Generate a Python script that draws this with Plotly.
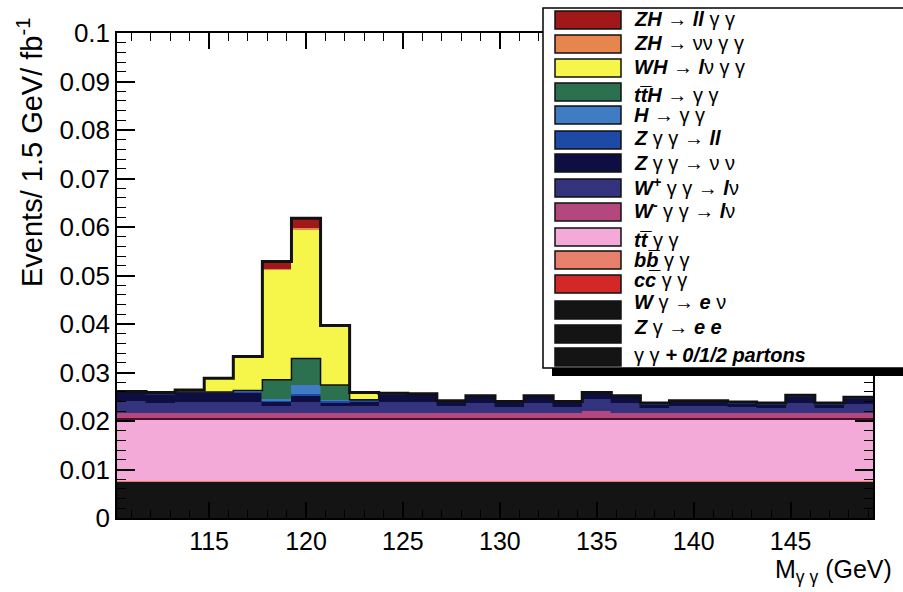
import numpy as np
import plotly.graph_objects as go

# ---------------- data ----------------
mass = [111.0, 112.5, 114.0, 115.5, 117.0, 118.5, 120.0, 121.5, 123.0, 124.5,
        126.0, 127.5, 129.0, 130.5, 132.0, 133.5, 135.0, 136.5, 138.0, 139.5,
        141.0, 142.5, 144.0, 145.5, 147.0, 148.5]
bin_width = 1.5

gg_partons = [0.0072] * 26
zg_ee = [0.0001] * 26
wg_enu = [0.0001] * 26
cc_gg = [0.0001] * 26
bb_gg = [0.0001] * 26
tt_gg = [0.0128] * 26
wminus_gg = [0.0012, 0.0012, 0.0012, 0.0012, 0.0012, 0.0012, 0.0012, 0.0012, 0.0012, 0.0012,
             0.0012, 0.0012, 0.0012, 0.0012, 0.0012, 0.0012, 0.0017, 0.0012, 0.0012, 0.0012,
             0.0012, 0.0012, 0.0012, 0.0012, 0.0012, 0.0012]
wplus_gg = [0.0025, 0.0022, 0.0024, 0.0024, 0.0024, 0.0014, 0.0024, 0.0014, 0.0014, 0.0024,
            0.0024, 0.0014, 0.0022, 0.0013, 0.0022, 0.0013, 0.0024, 0.0022, 0.0011, 0.0014,
            0.0014, 0.0012, 0.0011, 0.0022, 0.0011, 0.0019]
zgg_nunu = [0.0017, 0.0015, 0.0017, 0.0017, 0.0017, 0.0009, 0.0012, 0.0008, 0.0010, 0.0014,
            0.0013, 0.0009, 0.0011, 0.0008, 0.0011, 0.0008, 0.0011, 0.0011, 0.0007, 0.0009,
            0.0009, 0.0008, 0.0007, 0.0012, 0.0007, 0.0011]
zgg_ll = [0.0003] * 26
h_gg = [0, 0, 0, 0, 0.0001, 0.0003, 0.0019, 0.0003, 0, 0,
        0, 0, 0, 0, 0, 0, 0, 0, 0, 0, 0, 0, 0, 0, 0, 0]
tth_gg = [0, 0, 0, 0, 0.0002, 0.0040, 0.0055, 0.0030, 0.0001, 0,
          0, 0, 0, 0, 0, 0, 0, 0, 0, 0, 0, 0, 0, 0, 0, 0]
wh_lnugg = [0, 0.0003, 0.0004, 0.0028, 0.0068, 0.0226, 0.0265, 0.0121, 0.0014, 0,
            0, 0, 0, 0, 0, 0, 0, 0, 0, 0, 0, 0, 0, 0, 0, 0]
zh_nunugg = [0, 0, 0, 0, 0.0001, 0.0002, 0.0003, 0.0001, 0, 0,
             0, 0, 0, 0, 0, 0, 0, 0, 0, 0, 0, 0, 0, 0, 0, 0]
zh_llgg = [0, 0, 0, 0, 0.0001, 0.0016, 0.0021, 0.0001, 0.0001, 0,
           0, 0, 0, 0, 0, 0, 0, 0, 0, 0, 0, 0, 0, 0, 0, 0]

# legend labels (top to bottom, same as stack top to bottom)
labels = [
    "<b><i>ZH → ll</i></b> γ γ",
    "<b><i>ZH →</i></b> νν γ γ",
    "<b><i>WH → l</i></b>ν γ γ",
    "<b><i>tt\u0305H →</i></b> γ γ",
    "<b><i>H →</i></b> γ γ",
    "<b><i>Z</i></b> γ γ <b><i>→ ll</i></b>",
    "<b><i>Z</i></b> γ γ <b><i>→</i></b> ν ν",
    "<b><i>W<sup>+</sup></i></b> γ γ <b><i>→ l</i></b>ν",
    "<b><i>W<sup>-</sup></i></b> γ γ <b><i>→ l</i></b>ν",
    "<b><i>tt\u0305</i></b> γ γ",
    "<b><i>bb\u0305</i></b> γ γ",
    "<b><i>cc\u0305</i></b> γ γ",
    "<b><i>W</i></b> γ <b><i>→ e</i></b> ν",
    "<b><i>Z</i></b> γ <b><i>→ e e</i></b>",
    "γ γ <b><i>+ 0/1/2 partons</i></b>",
]
series_top_down = [zh_llgg, zh_nunugg, wh_lnugg, tth_gg, h_gg, zgg_ll, zgg_nunu,
                   wplus_gg, wminus_gg, tt_gg, bb_gg, cc_gg, wg_enu, zg_ee, gg_partons]
colors = ["#a01818", "#e8844e", "#f6f64a", "#2b7150", "#3f7cc4", "#1c4aa6", "#0e0e42",
          "#34347e", "#b4487e", "#f3aad8", "#e8806c", "#d22828", "#141414", "#141414", "#141414"]

# ---------------- figure ----------------
fig = go.Figure()
for vals, col, lab in reversed(list(zip(series_top_down, colors, labels))):
    fig.add_trace(go.Bar(x=mass, y=vals, width=bin_width,
                         marker=dict(color=col, line=dict(color=col, width=0.5)),
                         name=lab, showlegend=False))

centers = np.array(mass)
edges = np.append(centers - bin_width / 2, centers[-1] + bin_width / 2)

def step(cum, color, width):
    y = np.append(cum, cum[-1])
    fig.add_trace(go.Scatter(x=edges, y=y, mode="lines", line=dict(color=color, width=width, shape="hv"),
                             showlegend=False, hoverinfo="skip"))

bottom_up = list(reversed(series_top_down))
cum = np.cumsum(np.array(bottom_up), axis=0)
# index in bottom_up: 0 gg,1 zg,2 wg,3 cc,4 bb,5 tt,6 W-,7 W+,8 Znn,9 Zll,10 H,11 ttH,12 WH,13 ZHnn,14 ZHll
step(cum[5], "#4a1028", 2)
step(cum[11], "#111111", 1.5)
step(cum[14], "#111111", 3)

FONT = "Liberation Sans, Arial, sans-serif"
fig.update_layout(
    width=903, height=592,
    margin=dict(l=117, r=30, t=33, b=74),
    paper_bgcolor="white", plot_bgcolor="white",
    barmode="stack", bargap=0,
    font=dict(family=FONT, color="black"),
    xaxis=dict(range=[110.25, 149.25], tickvals=[115, 120, 125, 130, 135, 140, 145],
               ticks="inside", ticklen=16, tickwidth=1.5, tickcolor="black",
               minor=dict(tick0=110, dtick=1, ticks="inside", ticklen=8, tickwidth=1, tickcolor="black"),
               showline=True, linecolor="black", linewidth=1.5, mirror="ticks",
               showgrid=False, zeroline=False, tickfont=dict(size=25, family=FONT)),
    yaxis=dict(range=[0, 0.1], tick0=0, dtick=0.01,
               ticks="inside", ticklen=18, tickwidth=1.5, tickcolor="black",
               minor=dict(tick0=0, dtick=0.002, ticks="inside", ticklen=9, tickwidth=1, tickcolor="black"),
               showline=True, linecolor="black", linewidth=1.5, mirror="ticks",
               showgrid=False, zeroline=False, tickfont=dict(size=26, family=FONT)),
)

def X(px):
    return (px - 117) / 756.0

def Y(py):
    return (518 - py) / 485.0

shapes = []
annotations = []
# legend box + shadow
shapes.append(dict(type="rect", xref="paper", yref="paper", x0=X(552), x1=X(912), y0=Y(376), y1=Y(366),
                   fillcolor="black", line=dict(width=0), layer="above"))
shapes.append(dict(type="rect", xref="paper", yref="paper", x0=X(543), x1=X(912), y0=Y(368), y1=Y(8),
                   fillcolor="white", line=dict(color="black", width=1.5), layer="above"))
swatch_y = [20, 44, 68, 92, 115, 140, 163, 188, 212, 237, 260, 284, 310, 334, 357]
text_y = [19, 43, 67, 95, 115, 138, 163, 186, 209, 240, 260, 280, 302, 327, 355]
for i, (lab, col) in enumerate(zip(labels, colors)):
    shapes.append(dict(type="rect", xref="paper", yref="paper", x0=X(555), x1=X(621),
                       y0=Y(swatch_y[i] + 9), y1=Y(swatch_y[i] - 9),
                       fillcolor=col, line=dict(color="#111111", width=1.5), layer="above"))
    annotations.append(dict(xref="paper", yref="paper", x=X(632), y=Y(text_y[i]), text=lab,
                            showarrow=False, xanchor="left", yanchor="middle",
                            font=dict(size=20, family=FONT, color="black")))

annotations.append(dict(xref="paper", yref="paper", x=X(30), y=Y(152), text="Events/ 1.5 GeV/ fb<sup>-1</sup>",
                        textangle=-90, showarrow=False, xanchor="center", yanchor="middle",
                        font=dict(size=29, family=FONT, color="black")))
annotations.append(dict(xref="paper", yref="paper", x=X(894), y=Y(571), text="M<sub>γ γ</sub> (GeV)",
                        showarrow=False, xanchor="right", yanchor="middle",
                        font=dict(size=25, family=FONT, color="black")))

fig.update_layout(shapes=shapes, annotations=annotations)
fig.write_html("out.html", config={"displayModeBar": False},
               post_script="document.body.style.margin='0px';")
